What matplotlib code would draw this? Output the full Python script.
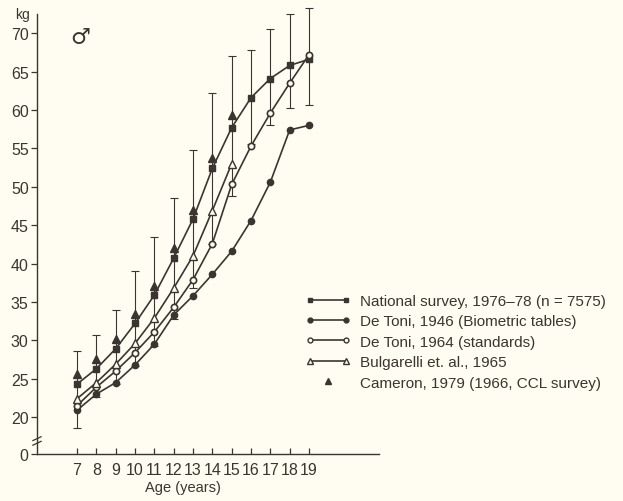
import matplotlib
matplotlib.use('Agg')
import matplotlib.pyplot as plt
from matplotlib.lines import Line2D
from matplotlib.legend_handler import HandlerLine2D

# Body weight of boys by age, several Italian reference sources
ages = [7, 8, 9, 10, 11, 12, 13, 14, 15, 16, 17, 18, 19]

national = [24.3, 26.3, 28.9, 32.2, 35.9, 40.7, 45.8, 52.4, 57.7, 61.6, 64.1, 65.8, 66.6]
national_upper = [28.6, 30.7, 33.9, 39.0, 43.5, 48.5, 54.8, 62.2, 67.0, 67.8, 70.5, 72.5, 73.3]
national_lower = [18.6, 22.6, 24.3, 26.6, 29.2, 32.8, 36.8, 42.5, 48.8, 55.6, 58.0, 60.2, 60.6]
detoni_1946 = [20.9, 23.0, 24.5, 26.8, 29.5, 33.3, 35.8, 38.6, 41.6, 45.6, 50.6, 57.4, 58.0]
detoni_1964 = [21.5, 23.9, 26.0, 28.4, 31.1, 34.3, 37.9, 42.6, 50.3, 55.3, 59.6, 63.5, 67.2]
bulgarelli_ages = [7, 8, 9, 10, 11, 12, 13, 14, 15]
bulgarelli = [22.4, 24.5, 26.9, 29.6, 32.9, 36.8, 41.0, 46.9, 53.0]
cameron_ages = [7, 8, 9, 10, 11, 12, 13, 14, 15]
cameron = [25.6, 27.6, 30.2, 33.4, 37.1, 42.0, 47.0, 53.8, 59.4]

labels = ['National survey, 1976\u201378 (n = 7575)',
          'De Toni, 1946 (Biometric tables)',
          'De Toni, 1964 (standards)',
          'Bulgarelli et. al., 1965',
          'Cameron, 1979 (1966, CCL survey)']

ink = '#3a3530'
paper = '#fffdf1'
plt.rcParams['font.family'] = ['Liberation Sans', 'DejaVu Sans']

fig = plt.figure(figsize=(6.23, 5.02), dpi=100, facecolor=paper)
ax = fig.add_axes([37 / 623, 47 / 502, 342 / 623, 440 / 502])
ax.set_facecolor(paper)

y_zero = 15.2  # where the broken axis puts "0"
ax.set_xlim(4.93, 22.62)
ax.set_ylim(y_zero, 72.5)

# error bars around the national survey means
err_lo = [m - lo for m, lo in zip(national, national_lower)]
err_hi = [hi - m for m, hi in zip(national, national_upper)]
eb = ax.errorbar(ages, national, yerr=[err_lo, err_hi], fmt='none', ecolor=ink,
                 elinewidth=0.8, capsize=3, capthick=0.8, zorder=2)
for art in eb.lines[1] + eb.lines[2]:
    art.set_clip_on(False)

lw = 1.2
ax.plot(ages, national, color=ink, lw=lw, marker='s', ms=4.5, zorder=3)
ax.plot(ages, detoni_1946, color=ink, lw=lw, marker='o', ms=4.5, zorder=3)
ax.plot(ages, detoni_1964, color=ink, lw=lw, marker='o', ms=4.5, mfc=paper,
        mew=1.2, zorder=3)
ax.plot(bulgarelli_ages, bulgarelli, color=ink, lw=lw, marker='^', ms=5.5,
        mfc=paper, mew=1.0, zorder=3)
ax.plot(cameron_ages, cameron, color=ink, ls='none', marker='^', ms=5.5, zorder=4)

# axes styling
for side in ['top', 'right']:
    ax.spines[side].set_visible(False)
for side in ['left', 'bottom']:
    ax.spines[side].set_color(ink)
    ax.spines[side].set_linewidth(1.0)

ax.set_xticks(ages)
ax.set_xticklabels([str(a) for a in ages])
ax.set_yticks([y_zero] + list(range(20, 71, 5)))
ax.set_yticklabels(['0'] + [str(v) for v in range(20, 71, 5)])
ax.tick_params(axis='x', direction='in', length=4, width=0.9, colors=ink,
               labelsize=11.5, pad=6)
ax.tick_params(axis='y', direction='out', length=4, width=0.9, colors=ink,
               labelsize=11.5, pad=2)

# break marks on the y axis between 0 and 20
ytr = ax.get_yaxis_transform()
for yb in (16.6, 17.2):
    ax.plot([-0.012, 0.012], [yb - 0.25, yb + 0.25], color=ink, lw=0.9,
            transform=ytr, clip_on=False)

fig.text(183 / 623, 1 - 488 / 502, 'Age (years)', ha='center', va='center',
         fontsize=10.5, color=ink)
fig.text(22 / 623, 1 - 15 / 502, 'kg', ha='center', va='center',
         fontsize=10, color=ink)
fig.text(80 / 623, 1 - 38 / 502, '\u2642', ha='center', va='center',
         fontsize=16, color=ink, family='DejaVu Sans')

# legend
handles = [
    Line2D([], [], color=ink, lw=lw, marker='s', ms=3.5),
    Line2D([], [], color=ink, lw=lw, marker='o', ms=3.5),
    Line2D([], [], color=ink, lw=lw, marker='o', ms=3.5, mfc=paper),
    Line2D([], [], color=ink, lw=lw, marker='^', ms=4.5, mfc=paper),
    Line2D([], [], color=ink, ls='none', marker='^', ms=5),
]
leg = fig.legend(handles, labels, loc='upper left',
                 bbox_to_anchor=(305 / 623, 1 - 295 / 502),
                 frameon=False, fontsize=11, handlelength=3.0,
                 handletextpad=0.6, labelspacing=0.42, borderpad=0,
                 borderaxespad=0, numpoints=2,
                 handler_map={handles[4]: HandlerLine2D(numpoints=1)})
for t in leg.get_texts():
    t.set_color(ink)

plt.savefig('out.png', dpi=100, facecolor=paper)
